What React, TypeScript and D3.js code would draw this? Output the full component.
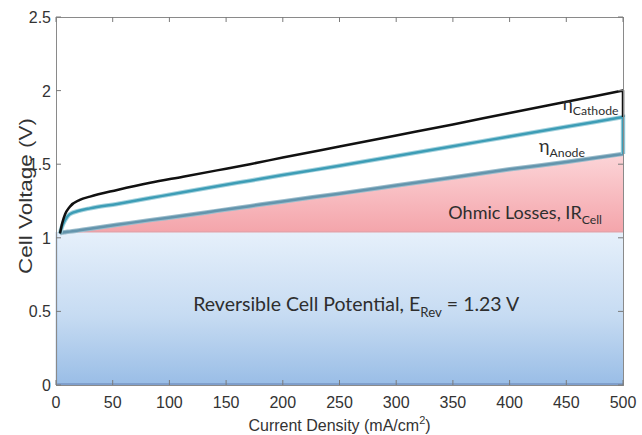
import React, { useEffect, useRef } from 'react';
import * as d3 from 'd3';

// current density (mA/cm2) sample points
const currentDensity = [3.5, 5.5, 8, 12, 21, 30, 54, 83, 112, 142, 171, 200, 250, 300, 350, 400, 450, 500];
// total cell voltage (top, black)
const cellVoltage = [1.03, 1.1, 1.16, 1.21, 1.257, 1.28, 1.325, 1.374, 1.415, 1.458, 1.5, 1.545, 1.62, 1.695, 1.77, 1.848, 1.924, 2.0];
// reversible + ohmic + anode overpotential (teal)
const anodeTop = [1.03, 1.08, 1.12, 1.16, 1.185, 1.2, 1.23, 1.27, 1.31, 1.35, 1.388, 1.426, 1.49, 1.556, 1.622, 1.688, 1.754, 1.82];
// reversible + ohmic losses (grey-blue)
const ohmicTop = [1.03, 1.035, 1.038, 1.042, 1.052, 1.062, 1.088, 1.12, 1.15, 1.183, 1.215, 1.247, 1.3, 1.355, 1.41, 1.465, 1.515, 1.57];
const reversibleLevel = 1.04;

const xTicks = [0, 50, 100, 150, 200, 250, 300, 350, 400, 450, 500];
const yTicks = [0, 0.5, 1, 1.5, 2, 2.5];

const App: React.FC = () => {
  const svgRef = useRef<SVGSVGElement>(null);

  useEffect(() => {
    if (!svgRef.current) return;
    const W = 642, H = 435;
    const margin = { top: 17, right: 19, bottom: 50, left: 56 };
    const width = W - margin.left - margin.right;
    const height = H - margin.top - margin.bottom;

    d3.select(svgRef.current).selectAll('*').remove();
    const root = d3.select(svgRef.current).attr('width', W).attr('height', H);

    const defs = root.append('defs');
    const blue = defs.append('linearGradient').attr('id', 'blueGrad')
      .attr('x1', 0).attr('y1', 0).attr('x2', 0).attr('y2', 1);
    blue.append('stop').attr('offset', '0%').attr('stop-color', '#e6f0fb');
    blue.append('stop').attr('offset', '55%').attr('stop-color', '#c6dbf2');
    blue.append('stop').attr('offset', '100%').attr('stop-color', '#99bde6');

    const x = d3.scaleLinear().domain([0, 500]).range([0, width]);
    const y = d3.scaleLinear().domain([0, 2.5]).range([height, 0]);

    const pink = defs.append('linearGradient').attr('id', 'pinkGrad')
      .attr('gradientUnits', 'userSpaceOnUse')
      .attr('x1', 0).attr('x2', 0).attr('y1', y(1.57)).attr('y2', y(reversibleLevel));
    pink.append('stop').attr('offset', '0%').attr('stop-color', '#fcd5d8');
    pink.append('stop').attr('offset', '100%').attr('stop-color', '#f4a5ab');

    const g = root.append('g').attr('transform', `translate(${margin.left},${margin.top})`);

    const data = currentDensity.map((c, i) => ({
      c, cell: cellVoltage[i], anode: anodeTop[i], ohmic: ohmicTop[i],
    }));
    const last = data[data.length - 1];

    // reversible potential block
    g.append('rect')
      .attr('x', x(0)).attr('y', y(reversibleLevel))
      .attr('width', x(500) - x(0)).attr('height', y(0) - y(reversibleLevel))
      .attr('fill', 'url(#blueGrad)');
    g.append('line')
      .attr('x1', x(0)).attr('x2', x(500)).attr('y1', y(0) - 1).attr('y2', y(0) - 1)
      .attr('stroke', '#7f9fcc').attr('stroke-width', 2);
    g.append('line')
      .attr('x1', x(0) + 0.5).attr('x2', x(0) + 0.5).attr('y1', y(0)).attr('y2', y(reversibleLevel))
      .attr('stroke', '#8fb0d8').attr('stroke-width', 1.5);

    // ohmic losses wedge
    const area = d3.area<any>()
      .x(d => x(d.c))
      .y0(y(reversibleLevel))
      .y1(d => y(Math.max(d.ohmic, reversibleLevel)));
    g.append('path').datum(data).attr('d', area).attr('fill', 'url(#pinkGrad)');
    g.append('line')
      .attr('x1', x(currentDensity[0])).attr('x2', x(500))
      .attr('y1', y(reversibleLevel)).attr('y2', y(reversibleLevel))
      .attr('stroke', '#e3a2a8').attr('stroke-width', 1.2);

    const line = d3.line<[number, number]>()
      .x(d => x(d[0]))
      .y(d => y(d[1]))
      .curve(d3.curveMonotoneX);

    // ohmic top line
    const ohmicPts: [number, number][] = data.map(d => [d.c, d.ohmic]);
    g.append('path').attr('d', line(ohmicPts))
      .attr('fill', 'none').attr('stroke', '#9bbccb').attr('stroke-width', 4.5);
    g.append('path').attr('d', line(ohmicPts))
      .attr('fill', 'none').attr('stroke', '#6495ad').attr('stroke-width', 2.5);

    // anode line, closed down to ohmic line at 500
    const anodePts: [number, number][] = data.map(d => [d.c, d.anode]);
    const anodePath = line(anodePts) + `L${x(500)},${y(last.ohmic)}`;
    g.append('path').attr('d', anodePath)
      .attr('fill', 'none').attr('stroke', '#a6d3de').attr('stroke-width', 4.5);
    g.append('path').attr('d', anodePath)
      .attr('fill', 'none').attr('stroke', '#3d9db6').attr('stroke-width', 2.5);

    // total cell voltage, closed down to anode line at 500
    const cellPts: [number, number][] = data.map(d => [d.c, d.cell]);
    const cellPath = line(cellPts) + `L${x(500)},${y(last.anode)}`;
    g.append('path').attr('d', cellPath)
      .attr('fill', 'none').attr('stroke', '#111').attr('stroke-width', 2.5)
      .attr('stroke-linejoin', 'round');

    // frame + inward ticks
    g.append('rect').attr('x', 0.5).attr('y', 0.5).attr('width', width).attr('height', height)
      .attr('fill', 'none').attr('stroke', '#8a8a8a').attr('stroke-width', 1);
    const tickCol = '#7a7a7a';
    xTicks.forEach(t => {
      g.append('line').attr('x1', x(t)).attr('x2', x(t)).attr('y1', 0).attr('y2', 5)
        .attr('stroke', tickCol);
      g.append('line').attr('x1', x(t)).attr('x2', x(t)).attr('y1', height).attr('y2', height - 5)
        .attr('stroke', tickCol);
    });
    yTicks.forEach(t => {
      g.append('line').attr('x1', 0).attr('x2', 5).attr('y1', y(t)).attr('y2', y(t))
        .attr('stroke', tickCol);
      g.append('line').attr('x1', width).attr('x2', width - 5).attr('y1', y(t)).attr('y2', y(t))
        .attr('stroke', tickCol);
    });

    const axisFont = '"Liberation Sans", Arial, sans-serif';
    g.selectAll('.xt').data(xTicks).enter().append('text')
      .attr('x', d => x(d)).attr('y', height + 23)
      .attr('text-anchor', 'middle').attr('font-family', axisFont).attr('font-size', 16)
      .attr('fill', '#333').text(d => d);
    g.selectAll('.yt').data(yTicks).enter().append('text')
      .attr('x', -5).attr('y', d => y(d) + 6)
      .attr('text-anchor', 'end').attr('font-family', axisFont).attr('font-size', 16)
      .attr('fill', '#333').text(d => d);

    const xl = root.append('text')
      .attr('x', margin.left + width / 2).attr('y', 431)
      .attr('text-anchor', 'middle').attr('font-family', axisFont).attr('font-size', 16)
      .attr('fill', '#333');
    xl.append('tspan').text('Current Density (mA/cm');
    xl.append('tspan').attr('font-size', 11).attr('dy', -7).text('2');
    xl.append('tspan').attr('dy', 7).text(')');

    root.append('text')
      .attr('transform', `translate(32,196) rotate(-90)`)
      .attr('text-anchor', 'middle').attr('font-family', axisFont).attr('font-size', 18)
      .attr('textLength', 156).attr('lengthAdjust', 'spacingAndGlyphs')
      .attr('fill', '#333').text('Cell Voltage (V)');

    // annotations
    const annFont = 'Lato, "Open Sans", sans-serif';
    const ann = (px: number, py: number, main: string, sub: string, rest: string, size: number, anchor: string) => {
      const t = g.append('text').attr('x', px).attr('y', py)
        .attr('text-anchor', anchor).attr('font-family', annFont).attr('font-size', size)
        .attr('fill', '#2e2e2e');
      t.append('tspan').text(main);
      t.append('tspan').attr('font-size', size * 0.68).attr('dy', size * 0.28).text(sub);
      if (rest) t.append('tspan').attr('font-size', size).attr('dy', -size * 0.28).text(rest);
    };
    ann(x(496), y(1.868), 'η', 'Cathode', '', 18, 'end');
    ann(x(426), y(1.585), 'η', 'Anode', '', 18, 'start');
    ann(x(346), y(1.125), 'Ohmic Losses, IR', 'Cell', '', 18, 'start');
    ann(x(121), y(0.5), 'Reversible Cell Potential, E', 'Rev', ' = 1.23 V', 19.5, 'start');
  }, []);

  return (
    <div style={{ position: 'absolute', left: 0, top: 0, background: '#fff' }}>
      <svg ref={svgRef}></svg>
    </div>
  );
};

export default App;
